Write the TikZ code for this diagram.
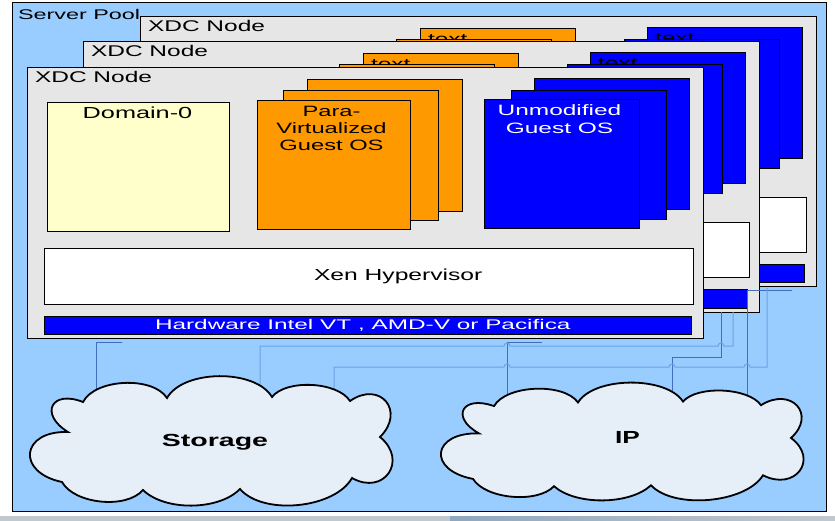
\documentclass[tikz,border=0pt]{standalone}
\usepackage{fontspec}
\setmainfont{Liberation Sans}
\usepackage{graphicx}
\definecolor{pool}{HTML}{99CCFF}
\definecolor{nodegray}{HTML}{E6E6E6}
\definecolor{domfill}{HTML}{FFFFCC}
\definecolor{orgfill}{HTML}{FF9900}
\definecolor{vblue}{HTML}{0000FF}
\definecolor{cloudfill}{HTML}{E6EEF8}
\definecolor{darkconn}{HTML}{3F6FBA}
\definecolor{lightconn}{HTML}{6FA0E4}
\definecolor{stripgray}{HTML}{C3C8CE}
\definecolor{stripblue}{HTML}{8FA8BE}

\newcommand\wide[2]{\scalebox{#1}[1]{#2}}

\tikzset{
  box/.style={draw=black, line width=1pt, inner sep=0pt, outer sep=0pt, anchor=north west, rectangle},
  framebox/.style={box, fill=nodegray, minimum width=676pt, minimum height=270pt},
  lbl/.style={inner sep=0pt, outer sep=0pt, text=black},
  darkline/.style={draw=darkconn, line width=0.8pt},
  lightline/.style={draw=lightconn, line width=1pt},
  cloudline/.style={draw=black, line width=1.8pt, fill=cloudfill, line join=miter},
}

\newcommand\cloudoutline{%
  (57,32) to[bend left=60, looseness=0.8] (141,28)
  to[bend left=60, looseness=0.8] (246,27)
  to[bend left=55, looseness=0.75] (324,31)
  to[bend left=85, looseness=2.0] (354,67)
  to[bend left=85, looseness=1.9] (326,108)
  to[bend left=55, looseness=0.8] (214,119)
  to[bend left=45, looseness=0.8] (117,120)
  to[bend left=55, looseness=0.8] (36,112)
  to[bend left=85, looseness=2.4] (42,62)
  to[bend left=85, looseness=2.6] (57,32) -- cycle}

% #1 name, #2 dx, #3 dy, #4 label on back orange box, #5 label on back blue box
\newcommand\xdcunit[5]{%
\begin{scope}[shift={(#2,#3)}]
  \node[framebox] (#1) at (27,68) {};
  \node[lbl, anchor=base west] (#1-title) at (35,83) {\fontsize{15.5}{17}\selectfont\wide{1.58}{XDC Node}};
  \node[box, fill=domfill, minimum width=182pt, minimum height=129pt] (#1-dom) at (47,103) {};
  \node[box, fill=orgfill, minimum width=155pt, minimum height=132pt] (#1-pv3) at (307,80) {};
  \node[lbl, anchor=base west] (#1-pv3t) at (315,96) {\fontsize{15.5}{17}\selectfont\wide{1.58}{#4}};
  \node[box, fill=orgfill, minimum width=155pt, minimum height=130pt] (#1-pv2) at (283,91) {};
  \node[box, fill=orgfill, minimum width=153pt, minimum height=129pt] (#1-pv1) at (257,101) {};
  \node[box, fill=vblue, minimum width=155pt, minimum height=131pt] (#1-hv3) at (534,79) {};
  \node[lbl, anchor=base west] (#1-hv3t) at (542,95) {\fontsize{15.5}{17}\selectfont\wide{1.58}{#5}};
  \node[box, fill=vblue, minimum width=155pt, minimum height=129pt] (#1-hv2) at (511,91) {};
  \node[box, fill=vblue, minimum width=155pt, minimum height=129pt] (#1-hv1) at (484,100) {};
  \node[box, fill=white, minimum width=649pt, minimum height=55pt] (#1-xen) at (44,249) {};
  \node[box, fill=vblue, minimum width=647pt, minimum height=18pt] (#1-hw) at (44,316) {};
\end{scope}}

\begin{document}
\begin{tikzpicture}[x=1pt, y=-1pt]
\useasboundingbox (0,0) rectangle (835,521);
\fill[white] (0,0) rectangle (835,521);
\fill[stripgray] (0,516) rectangle (835,521);
\shade[left color=stripblue, right color=stripgray] (450,516) rectangle (835,521);

% server pool
\node[box, fill=pool, minimum width=814pt, minimum height=508pt] (pool) at (12,3) {};
\node[lbl, anchor=base west] (pool-title) at (18,19.5) {\fontsize{14}{16}\selectfont\wide{1.67}{Server Pool}};

% XDC nodes, back to front
\xdcunit{n3}{113}{-51}{text}{text}
\xdcunit{n2}{56}{-26}{text}{text}
\xdcunit{n1}{0}{0}{}{}

% front node texts
\node[lbl, anchor=base] (dom-t) at (137.5,119) {\fontsize{16}{18}\selectfont\wide{1.58}{Domain-0}};
\node[lbl, anchor=base] (pv-t1) at (331.5,117) {\fontsize{15}{17}\selectfont\wide{1.58}{Para-}};
\node[lbl, anchor=base] (pv-t2) at (331.5,134) {\fontsize{15}{17}\selectfont\wide{1.58}{Virtualized}};
\node[lbl, anchor=base] (pv-t3) at (331.5,151) {\fontsize{15}{17}\selectfont\wide{1.58}{Guest OS}};
\node[lbl, anchor=base, text=white] (hv-t1) at (559.5,116) {\fontsize{15}{17}\selectfont\wide{1.63}{Unmodified}};
\node[lbl, anchor=base, text=white] (hv-t2) at (559.5,134) {\fontsize{15}{17}\selectfont\wide{1.63}{Guest OS}};
\node[lbl, anchor=base west] (xen-t) at (314,281) {\fontsize{16}{18}\selectfont\wide{1.54}{Xen Hypervisor}};
\node[lbl, anchor=base west, text=white] (hw-t) at (155,329) {\fontsize{14}{16}\selectfont\wide{1.74}{Hardware Intel VT , AMD-V or Pacifica}};

% connector anchors
\coordinate (c1) at (122,342);
\coordinate (c2) at (542,342);
\coordinate (c3) at (721,312);
\coordinate (c4) at (792,290);
\coordinate (c5) at (733,312);
\coordinate (c6) at (767,288);
\coordinate (s1) at (96,430);
\coordinate (s2) at (260,430);
\coordinate (s3) at (334,430);
\coordinate (i1) at (507,430);
\coordinate (i2) at (672,430);
\coordinate (i3) at (747,430);

% connectors
\draw[darkline] (c1) -- (96,342) -- (s1);
\draw[darkline] (c2) -- (507,342) -- (i1);
\draw[darkline] (c3) -- (721,357) -- (672,357) -- (i2);
\draw[darkline] (c4) -- (747,290) -- (i3);
\draw[lightline] (c5) -- (733,346) -- (724,346) arc[start angle=0, end angle=-180, radius=3]
   -- (510,346) arc[start angle=0, end angle=-180, radius=3] -- (260,346) -- (s2);
\draw[lightline] (c6) -- (767,367) -- (750,367) arc[start angle=0, end angle=-180, radius=3]
   -- (675,367) arc[start angle=0, end angle=-180, radius=3]
   -- (510,367) arc[start angle=0, end angle=-180, radius=3] -- (334,367) -- (s3);

% clouds
\begin{scope}[shift={(26,370)}]
  \draw[cloudline] \cloudoutline;
\end{scope}
\begin{scope}[shift={(437,377)}, yscale=0.91]
  \draw[cloudline] \cloudoutline;
\end{scope}
\node[lbl, anchor=base] (storage) at (215,446.5) {\fontsize{17.5}{20}\selectfont\bfseries\wide{1.63}{Storage}};
\node[lbl, anchor=base] (ip) at (627.5,443) {\fontsize{17.5}{20}\selectfont\bfseries\wide{1.5}{IP}};
\end{tikzpicture}
\end{document}
